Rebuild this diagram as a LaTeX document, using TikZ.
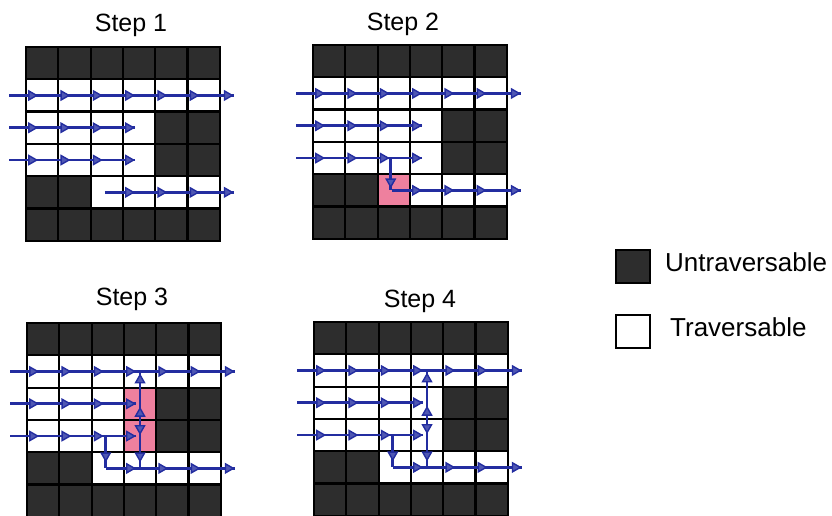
\documentclass[tikz,border=0pt]{standalone}
\usepackage{fontspec}
\setmainfont{Liberation Sans}
\usetikzlibrary{arrows.meta}
\definecolor{arrblue}{RGB}{35,45,160}
\definecolor{darkcell}{RGB}{45,45,45}
\definecolor{pinkcell}{RGB}{238,128,158}
\tikzset{
 flowline/.style={draw=arrblue, line width=2.6pt},
 tipst/.style={draw=arrblue, line width=1.4pt, -{Triangle[length=10pt,width=11pt,fill=arrblue!80]}},
 gridline/.style={draw=black, line width=2.2pt, line cap=rect},
 title/.style={font=\fontsize{25}{30}\selectfont, inner sep=0pt},
 legtext/.style={font=\fontsize{26}{30}\selectfont, anchor=west, inner sep=0pt},
 legbox/.style={draw=black, line width=2.2pt, minimum width=34pt, minimum height=33pt, inner sep=0pt},
}
\def\cs{32.3}
\newcommand\pcell[2]{\fill[pinkcell] ({#2*\cs},{#1*\cs}) rectangle ++(\cs,\cs);}
\newcommand\mygrid[4]{%
\begin{scope}[shift={(#1,#2)}]
 \fill[white] (0,0) rectangle ({6*\cs},{6*\cs});
 \foreach \r/\c in {0/0,0/1,0/2,0/3,0/4,0/5,5/0,5/1,5/2,5/3,5/4,5/5,2/4,2/5,3/4,3/5,4/0,4/1}
   \fill[darkcell] ({\c*\cs},{\r*\cs}) rectangle ++(\cs,\cs);
 #4
 \foreach \i in {0,...,6} {
   \draw[gridline] ({\i*\cs},0) -- ({\i*\cs},{6*\cs});
   \draw[gridline] (0,{\i*\cs}) -- ({6*\cs},{\i*\cs});
 }
 \foreach \r in {0,...,5} {
   \coordinate (#3-L-\r) at (-17,{(\r+.5)*\cs});
   \coordinate (#3-R-\r) at ({6*\cs+14},{(\r+.5)*\cs});
   \foreach \c in {0,...,5} \coordinate (#3-\r-\c) at ({(\c+.5)*\cs},{(\r+.5)*\cs});
 }
\end{scope}}
\newcommand\tipat[2]{\path (#1) coordinate (tmpT); \draw[tipst] ([shift={(#2:1pt)}]tmpT) -- (tmpT);}
% common horizontal flows of a grid
\newcommand\rows[1]{%
 \draw[flowline] (#1-L-1) -- (#1-R-1);
 \draw[flowline] (#1-L-2) -- ([xshift=-4pt]#1-2-3);
 \draw[flowline] (#1-L-3) -- ([xshift=-4pt]#1-3-3);
 \draw[flowline] ([xshift=-2pt]#1-4-2) -- (#1-R-4);
 \foreach \c in {0,...,5} \tipat{[xshift=-4pt]#1-1-\c}{180};
 \tipat{#1-R-1}{180};
 \foreach \c in {0,...,3} {\tipat{[xshift=-4pt]#1-2-\c}{180}; \tipat{[xshift=-4pt]#1-3-\c}{180};}
 \foreach \c in {3,4,5} \tipat{[xshift=-4pt]#1-4-\c}{180};
 \tipat{#1-R-4}{180};
}
\newcommand\vflows[1]{%
 \draw[flowline] ([xshift=-2pt]#1-3-2) -- ([xshift=-2pt]#1-4-2);
 \tipat{[xshift=-2pt,yshift=6pt]#1-4-2}{90};
 \draw[flowline] (#1-1-3) -- (#1-4-3);
 \tipat{[yshift=-2pt]#1-1-3}{270};
 \tipat{[yshift=-3pt]#1-2-3}{270};
 \tipat{[yshift=1pt]#1-3-3}{90};
 \tipat{[yshift=6pt]#1-4-3}{90};
}
\begin{document}
\begin{tikzpicture}[x=1pt,y=-1pt]
\useasboundingbox (0,0) rectangle (832,516);
\fill[white] (0,0) rectangle (832,516);
% grids
\mygrid{26}{47}{A}{}
\mygrid{313}{45}{B}{\pcell{4}{2}}
\mygrid{27}{323}{C}{\pcell{2}{3}\pcell{3}{3}}
\mygrid{314}{322}{D}{}
% titles
\node[title] (t1) at (131,25) {Step 1};
\node[title] (t2) at (403,24) {Step 2};
\node[title] (t3) at (132,299) {Step 3};
\node[title] (t4) at (420,301) {Step 4};
% flows
\rows{A}
\rows{B}
\draw[flowline] ([xshift=-3pt]B-3-2) -- ([xshift=-3pt]B-4-2);
\tipat{[xshift=-3pt,yshift=2pt]B-4-2}{90};
\rows{C}
\vflows{C}
\rows{D}
\vflows{D}
% legend
\node[legbox, fill=darkcell] (lu) at (633,266.5) {};
\node[legtext] (ltu) at (665,262.5) {Untraversable};
\node[legbox, fill=white] (lt) at (633,331.5) {};
\node[legtext] (ltt) at (670,327) {Traversable};
\end{tikzpicture}
\end{document}
